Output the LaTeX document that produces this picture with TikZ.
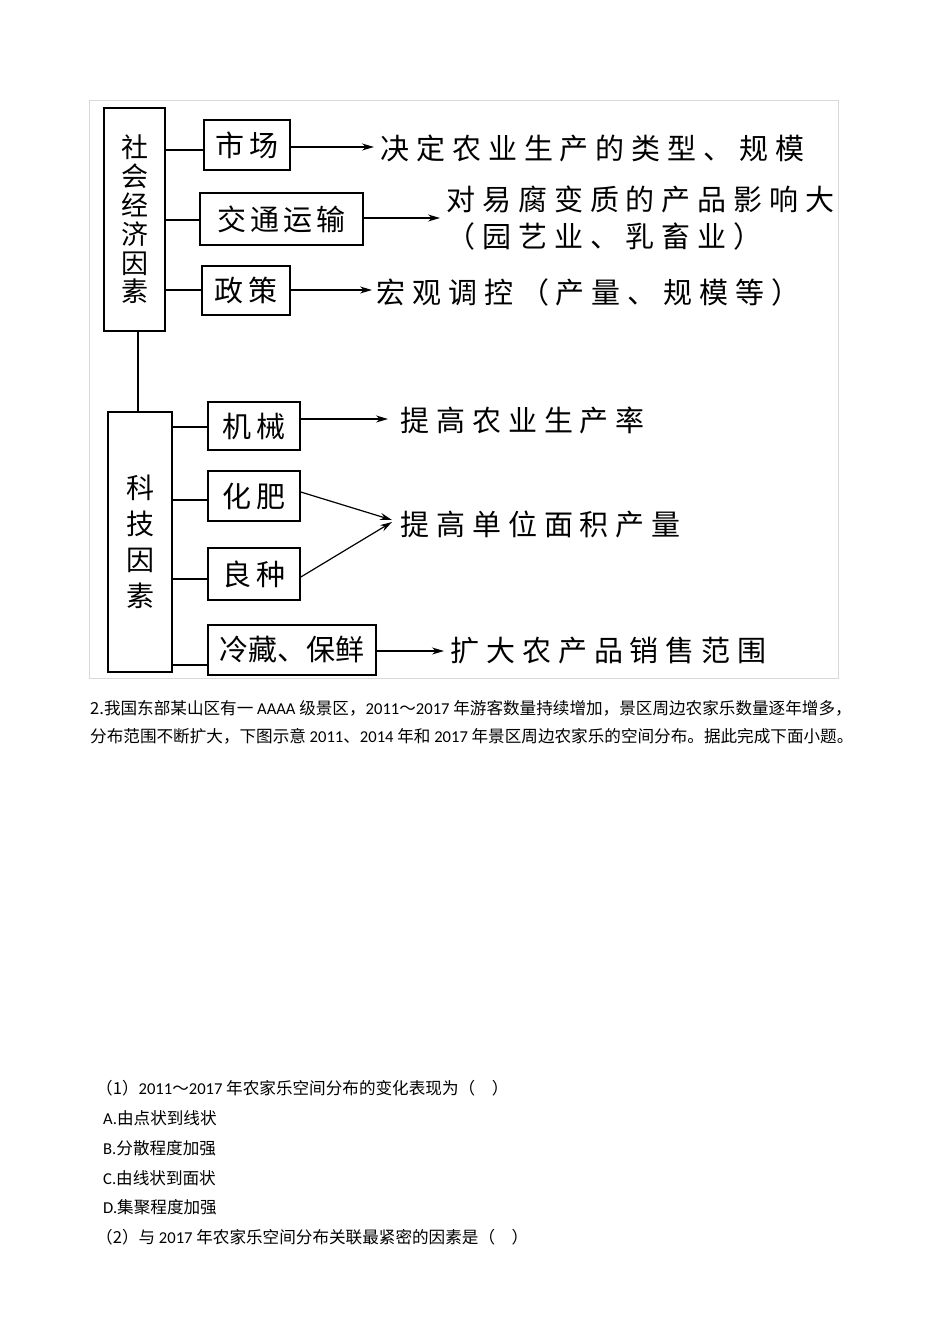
\documentclass[tikz,border=0pt]{standalone}
\usepackage{fontspec}
\setmainfont{Noto Sans CJK SC}
\newfontfamily\cjkd[LetterSpace=14]{Noto Sans CJK SC}
\newfontfamily\cjkr[LetterSpace=24]{Noto Sans CJK SC}
\newfontfamily\cjkt{Noto Sans CJK SC}
\newfontfamily\latn{Carlito}
\usetikzlibrary{arrows.meta}
\begin{document}
\begin{tikzpicture}[x=1pt,y=-1pt,
  bx/.style={draw,line width=1.6pt,inner sep=0pt},
  lbl/.style={font=\cjkd\fontsize{29}{34}\selectfont},
  res/.style={font=\cjkr\fontsize{29}{37}\selectfont,anchor=west,inner sep=0pt,align=left},
  con/.style={line width=1.2pt},
  arr/.style={line width=1.2pt,-{Stealth[length=12pt,width=7pt]}},
  ptxt/.style={anchor=west,inner sep=0pt,font=\cjkt\fontsize{16.6}{18}\selectfont}]
\useasboundingbox (0,0) rectangle (950,1344);
\draw[black!15,line width=0.8pt] (89,100) rectangle (838,678);
% left boxes
\node[bx,minimum width=61pt,minimum height=223pt] (se) at (134.5,219.5) {};
\node[font=\cjkt\fontsize{27}{28.8}\selectfont,align=center] at (se) {社\\会\\经\\济\\因\\素};
\node[bx,minimum width=64pt,minimum height=260pt] (kj) at (140,542) {};
\node[font=\cjkt\fontsize{28}{36}\selectfont,align=center] at (kj) {科\\技\\因\\素};
\draw[con] (se.south -| 138,0) -- (kj.north -| 138,0);
% factor boxes
\node[bx,lbl,minimum width=86pt,minimum height=50pt] (sc) at (247,145) {市场};
\node[bx,lbl,minimum width=163pt,minimum height=52pt] (jt) at (281.5,219) {交通运输};
\node[bx,lbl,minimum width=88pt,minimum height=49pt] (zc) at (246,290.5) {政策};
\node[bx,lbl,minimum width=92pt,minimum height=48pt] (jx) at (254,426) {机械};
\node[bx,lbl,minimum width=92pt,minimum height=50pt] (hf) at (254,496) {化肥};
\node[bx,lbl,minimum width=92pt,minimum height=52pt] (lz) at (254,574) {良种};
\node[bx,font=\cjkt\fontsize{29}{34}\selectfont,minimum width=168pt,minimum height=50pt] (lc) at (292,650) {冷藏、保鲜};
% connectors from main boxes
\draw[con] (se.east |- 0,150) -- (sc.west |- 0,150);
\draw[con] (se.east |- 0,220) -- (jt.west |- 0,220);
\draw[con] (se.east |- 0,290) -- (zc.west |- 0,290);
\draw[con] (kj.east |- 0,427) -- (jx.west |- 0,427);
\draw[con] (kj.east |- 0,500) -- (hf.west |- 0,500);
\draw[con] (kj.east |- 0,579) -- (lz.west |- 0,579);
\draw[line width=2pt] (kj.east |- 0,665) -- (lc.west |- 0,665);
% results
\node[res] (r1) at (380,148) {决定农业生产的类型、规模};
\node[res] (r2) at (446,218) {对易腐变质的产品影响大\\（园艺业、乳畜业）};
\node[res] (r3) at (376,292) {宏观调控（产量、规模等）};
\node[res] (r4) at (400,420) {提高农业生产率};
\node[res] (r5) at (400,524) {提高单位面积产量};
\node[res] (r6) at (450,651) {扩大农产品销售范围};
\draw[arr] (sc.east |- 0,147) -- ([xshift=-6pt]r1.west |- 0,147);
\draw[arr] (jt.east |- 0,218) -- ([xshift=-6pt]r2.west |- 0,218);
\draw[arr] (zc.east |- 0,290) -- ([xshift=-4pt]r3.west |- 0,290);
\draw[arr] (jx.east |- 0,419) -- ([xshift=-12pt]r4.west |- 0,419);
\draw[arr] (hf.east |- 0,492) -- ([xshift=-8pt]r5.west |- 0,520);
\draw[arr] (lz.east |- 0,577) -- ([xshift=-8pt]r5.west |- 0,522);
\draw[arr] (lc.east |- 0,651) -- ([xshift=-6pt]r6.west |- 0,651);
% text
\node[ptxt] (p1) at (90,708) {2.我国东部某山区有一 {\latn AAAA} 级景区，{\latn 2011}～{\latn 2017} 年游客数量持续增加，景区周边农家乐数量逐年增多，};
\node[ptxt] (p2) at (90,736) {分布范围不断扩大，下图示意 {\latn 2011}、{\latn 2014} 年和 {\latn 2017} 年景区周边农家乐的空间分布。据此完成下面小题。};
\node[ptxt] (q1) at (96,1088) {（1）{\latn 2011}～{\latn 2017} 年农家乐空间分布的变化表现为（\quad）};
\node[ptxt] (a) at (103,1118) {{\latn A.}由点状到线状};
\node[ptxt] (b) at (103,1148) {{\latn B.}分散程度加强};
\node[ptxt] (c) at (103,1178) {{\latn C.}由线状到面状};
\node[ptxt] (d) at (103,1207) {{\latn D.}集聚程度加强};
\node[ptxt] (q2) at (96,1237) {（2）与 {\latn 2017} 年农家乐空间分布关联最紧密的因素是（\quad）};
\end{tikzpicture}
\end{document}
